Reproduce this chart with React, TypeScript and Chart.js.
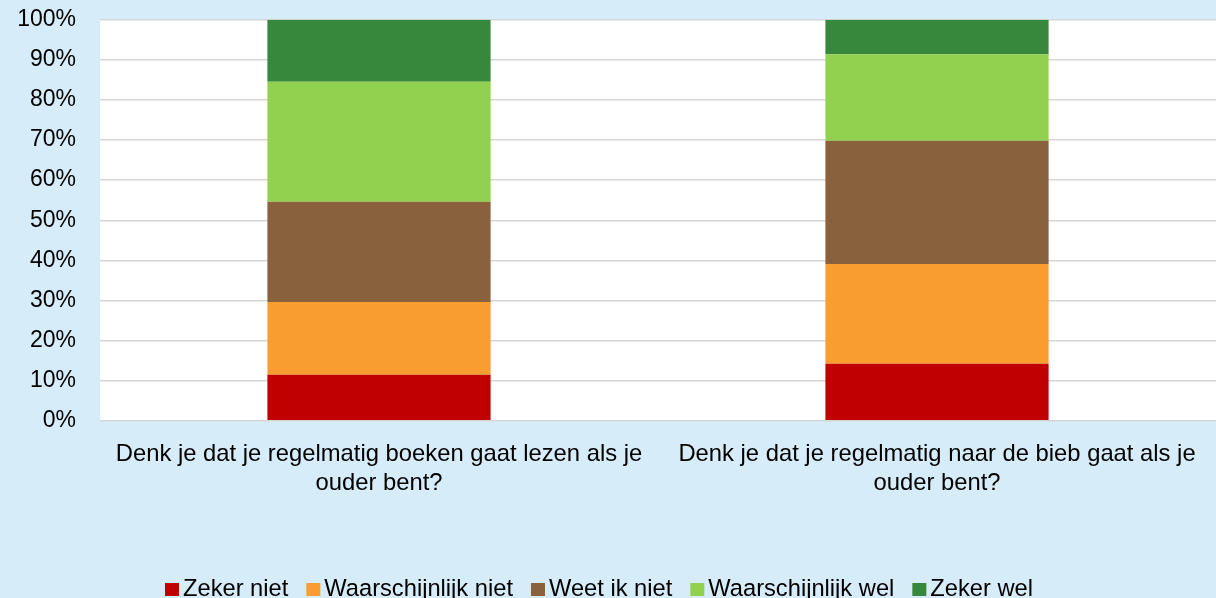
import React, { useEffect, useRef } from "react";
import { Chart, registerables } from "chart.js";

Chart.register(...registerables);

const FONT = '"Liberation Sans", Arial, Helvetica, sans-serif';

const categories: string[][] = [
  ["Denk je dat je regelmatig boeken gaat lezen als je", "ouder bent?"],
  ["Denk je dat je regelmatig naar de bieb gaat als je", "ouder bent?"],
];

const seriesNames = [
  "Zeker niet",
  "Waarschijnlijk niet",
  "Weet ik niet",
  "Waarschijnlijk wel",
  "Zeker wel",
];

const zekerNiet = [11.5, 14.2];
const waarschijnlijkNiet = [18.1, 24.9];
const weetIkNiet = [25.0, 30.7];
const waarschijnlijkWel = [29.9, 21.6];
const zekerWel = [15.5, 8.6];

const seriesColors = ["#c00000", "#f99d31", "#89613d", "#92d050", "#37873c"];

const yTicks = [0, 10, 20, 30, 40, 50, 60, 70, 80, 90, 100];

const BG = "#d6ecf9";

const plotBackground = {
  id: "plotBackground",
  beforeDraw(chart: any) {
    const { ctx, chartArea } = chart;
    ctx.save();
    ctx.fillStyle = "#ffffff";
    ctx.fillRect(
      chartArea.left,
      chartArea.top,
      chartArea.right - chartArea.left,
      chartArea.bottom - chartArea.top
    );
    ctx.restore();
  },
};

const customLegend = {
  id: "customLegend",
  afterDraw(chart: any) {
    const { ctx } = chart;
    const box = 14;
    const gap = 4;
    const itemGap = 18;
    ctx.save();
    ctx.font = `23.7px ${FONT}`;
    ctx.textBaseline = "middle";
    ctx.textAlign = "left";
    const items = chart.data.datasets.map((ds: any) => ({
      text: ds.label as string,
      color: ds.backgroundColor as string,
      w: ctx.measureText(ds.label).width,
    }));
    const total =
      items.reduce((s: number, it: any) => s + box + gap + it.w, 0) +
      itemGap * (items.length - 1);
    let x = 599 - total / 2;
    const y = 589;
    for (const it of items) {
      ctx.fillStyle = it.color;
      ctx.fillRect(x, y - 6, box, 13);
      ctx.fillStyle = "#000000";
      ctx.fillText(it.text, x + box + gap, y);
      x += box + gap + it.w + itemGap;
    }
    ctx.restore();
  },
};

export default function App() {
  const ref = useRef<HTMLCanvasElement | null>(null);

  useEffect(() => {
    if (!ref.current) return;
    const values = [zekerNiet, waarschijnlijkNiet, weetIkNiet, waarschijnlijkWel, zekerWel];
    const chart = new Chart(ref.current, {
      type: "bar",
      data: {
        labels: categories,
        datasets: values.map((v, i) => ({
          label: seriesNames[i],
          data: v,
          backgroundColor: seriesColors[i],
          borderWidth: 0,
          barPercentage: 0.4,
          categoryPercentage: 1,
        })),
      },
      options: {
        responsive: false,
        animation: false,
        layout: { padding: { top: 0, right: 0, bottom: 0, left: 0 } },
        plugins: {
          legend: { display: false },
          tooltip: { enabled: false },
        },
        scales: {
          x: {
            stacked: true,
            grid: { display: false },
            border: { display: false },
            ticks: {
              color: "#000000",
              font: { family: FONT, size: 23.8, lineHeight: 1.22 },
              padding: 11,
              maxRotation: 0,
              autoSkip: false,
            },
            afterFit(scale: any) {
              scale.height = 177.2;
            },
          },
          y: {
            stacked: true,
            min: 0,
            max: 100,
            afterBuildTicks(scale: any) {
              scale.ticks = yTicks.map((v) => ({ value: v }));
            },
            grid: { color: "#d6d6d6", lineWidth: 1.5, drawTicks: false },
            border: { display: false },
            ticks: {
              color: "#000000",
              font: { family: FONT, size: 23 },
              padding: 24,
              callback: (v: any) => `${v}%`,
            },
            afterFit(scale: any) {
              scale.width = 100;
              scale.paddingTop = 19.7;
            },
          },
        },
      },
      plugins: [plotBackground, customLegend],
    });
    return () => chart.destroy();
  }, []);

  return (
    <div
      style={{
        position: "absolute",
        left: 0,
        top: 0,
        width: 1216,
        height: 598,
        background: BG,
      }}
    >
      <canvas ref={ref} width={1216} height={598} style={{ width: 1216, height: 598, display: "block" }} />
    </div>
  );
}
